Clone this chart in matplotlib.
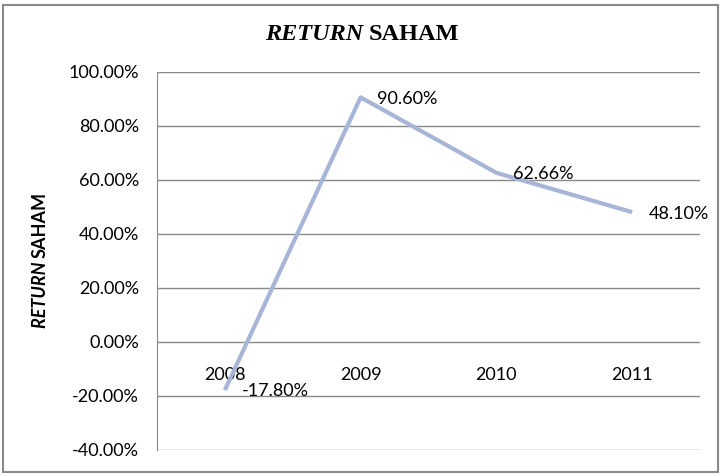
import matplotlib
matplotlib.use("Agg")
import matplotlib.pyplot as plt
from matplotlib.patches import Rectangle
from matplotlib.ticker import FuncFormatter

years = ["2008", "2009", "2010", "2011"]
returns = [-17.80, 90.60, 62.66, 48.10]
labels = ["-17.80%", "90.60%", "62.66%", "48.10%"]
yticks = [-40, -20, 0, 20, 40, 60, 80, 100]

font = "Lato"
fs = 13
W, H = 723, 476
fig = plt.figure(figsize=(7.23, 4.76), dpi=100)
ax = fig.add_axes([157/W, 1-450/H, (700-157)/W, (450-72)/H])

x = list(range(len(years)))
ax.plot(x, returns, color="#A7B5D6", lw=3, solid_capstyle="butt", zorder=3)
for xi, yi, lab in zip(x, returns, labels):
    ax.annotate(lab, (xi, yi), xytext=(12, -1), textcoords="offset points",
                ha="left", va="center", fontsize=fs, family=font, color="#000000")

ax.set_xlim(-0.5, 3.5)
ax.set_ylim(-40, 100)
ax.set_yticks(yticks)
ax.yaxis.set_major_formatter(FuncFormatter(lambda v, p: f"{v:.2f}%"))
ax.grid(axis="y", color="#8a8a8a", lw=1)
ax.set_axisbelow(True)
for s in ["top", "right"]:
    ax.spines[s].set_visible(False)
ax.spines["left"].set_color("#8a8a8a")
ax.spines["bottom"].set_position(("data", 0))
ax.spines["bottom"].set_visible(False)
ax.set_xticks(x)
ax.set_xticklabels(years)
ax.tick_params(axis="x", length=0, pad=18, labelsize=fs)
ax.tick_params(axis="y", length=0, pad=13, labelsize=fs)
for t in ax.get_xticklabels() + ax.get_yticklabels():
    t.set_family(font)

renderer = fig.canvas.get_renderer()

# title: centered at x=362 px
t1 = fig.text(0, 1 - 35/H, "RETURN ", ha="left", va="center", fontsize=17.5,
              family="Liberation Serif", fontweight="bold", fontstyle="italic")
t2 = fig.text(0, 1 - 35/H, "SAHAM", ha="left", va="center", fontsize=17.5,
              family="Liberation Serif", fontweight="bold")
w1 = t1.get_window_extent(renderer).width
w2 = t2.get_window_extent(renderer).width
start = 362 - (w1 + w2) / 2
t1.set_x(start / W)
t2.set_x((start + w1) / W)

# y label: reading bottom-to-top, centered at y=260 px
y1 = fig.text(40/W, 0, "RETURN ", rotation=90, ha="center", va="bottom",
              fontsize=fs, family=font, fontweight="bold", fontstyle="italic")
y2 = fig.text(40/W, 0, "SAHAM", rotation=90, ha="center", va="bottom",
              fontsize=fs, family=font, fontweight="bold")
h1 = y1.get_window_extent(renderer).height
h2 = y2.get_window_extent(renderer).height
bottom = (H - 260) - (h1 + h2) / 2
y1.set_y(bottom / H)
y2.set_y((bottom + h1) / H)

fig.patches.append(Rectangle((3/W, 4/H), 715/W, 467/H, transform=fig.transFigure,
                             fill=False, edgecolor="#8a8a8a", lw=1.5))
fig.savefig("out.png", dpi=100)
